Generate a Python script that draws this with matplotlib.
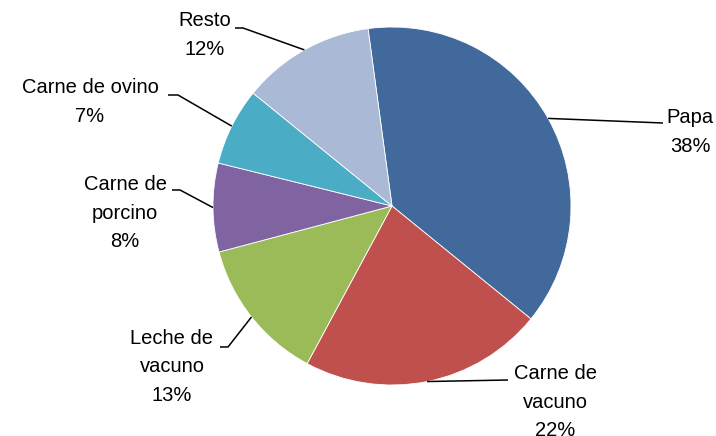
import matplotlib.pyplot as plt
import numpy as np

# Dati del grafico (percentuali)
categorie = ['Papa', 'Carne de\nvacuno', 'Leche de\nvacuno', 'Carne de\nporcino', 'Carne de ovino', 'Resto']
valori = [38, 22, 13, 8, 7, 12]
colori = ['#41699B', '#C0504D', '#9BBB59', '#8064A2', '#4BACC6', '#AAB9D6']

W, H = 716, 436
fig = plt.figure(figsize=(W / 100, H / 100), dpi=100)
ax = fig.add_axes([0, 0, 1, 1])

cx, cy, r = 392, H - 206, 179
wedges, _ = ax.pie(valori, colors=colori, startangle=97.7, counterclock=False,
                   center=(cx, cy), radius=r, frame=True,
                   wedgeprops=dict(linewidth=0.6, edgecolor='white'))
ax.set_xlim(0, W)
ax.set_ylim(0, H)
ax.set_aspect('equal')
ax.axis('off')

# Posizioni delle etichette (pixel, y dall'alto) e gomito della linea guida
etichette = [
    # (x testo, y testo, gomito x, gomito y, fine orizzontale x)
    (690, 132, 663, 123, 663),
    (555, 402, 508, 380, 508),
    (172, 367, 228, 347, 220),
    (125, 213, 180, 190, 172),
    (90, 102, 178, 95, 168),
    (205, 35, 243, 28, 235),
]

for w, v, lab, (tx, ty, ex, ey, hx) in zip(wedges, valori, categorie, etichette):
    mid = np.deg2rad((w.theta1 + w.theta2) / 2)
    px = cx + r * np.cos(mid)
    py = cy + r * np.sin(mid)
    ax.plot([px, ex, hx], [py, H - ey, H - ey], color='black', lw=1.1, solid_capstyle='butt')
    ax.text(tx, H - ty, f"{lab}\n{v}%", ha='center', va='center', fontsize=14.5,
            family=['Liberation Sans Narrow', 'Liberation Sans', 'DejaVu Sans'],
            linespacing=1.65, color='black')

fig.savefig('out.png', dpi=100, facecolor='white')
